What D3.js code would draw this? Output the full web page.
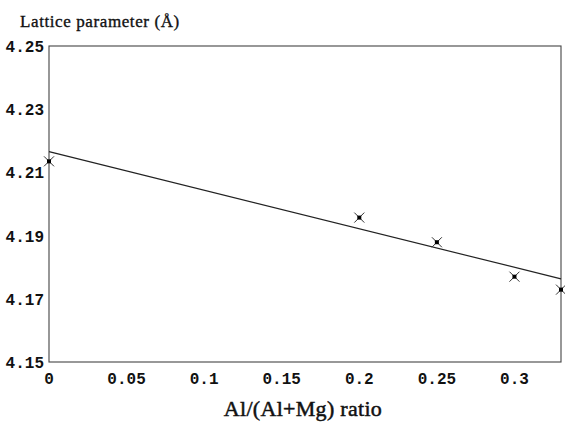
<!DOCTYPE html>
<html lang="en">
<head>
<meta charset="UTF-8" />
<title>Lattice parameter</title>
<script src="https://cdn.jsdelivr.net/npm/d3@7"></script>
<style>
    body { margin: 0; padding: 0; background: #fff; }
    .tick-label { font: bold 16px "Liberation Mono", monospace; fill: #111; }
    .title { font: 17px "Liberation Serif", serif; fill: #111; stroke: #111; stroke-width: 0.35; letter-spacing: 0.6px; }
    .xtitle { font: 22px "Liberation Serif", serif; fill: #111; stroke: #111; stroke-width: 0.5; letter-spacing: 0.3px; }
</style>
</head>
<body>
<svg width="565" height="422"></svg>
<script>
// measured points
var ratio = [0, 0.2, 0.25, 0.3, 0.33];
var lattice = [4.2135, 4.1957, 4.1879, 4.1770, 4.1729];
// fitted line ends
var fitRatio = [0, 0.33];
var fitLattice = [4.2166, 4.1763];

var xTicks = [0, 0.05, 0.1, 0.15, 0.2, 0.25, 0.3];
var xTickText = ['0', '0.05', '0.1', '0.15', '0.2', '0.25', '0.3'];
var yTicks = [4.15, 4.17, 4.19, 4.21, 4.23, 4.25];
var yTickText = ['4.15', '4.17', '4.19', '4.21', '4.23', '4.25'];

var svg = d3.select('svg'),
    plotLeft = 49, plotRight = 561, plotTop = 46, plotBottom = 362;

var x = d3.scaleLinear().domain([0, 0.33]).range([plotLeft, plotRight]);
var y = d3.scaleLinear().domain([4.15, 4.25]).range([plotBottom, plotTop]);

// frame
svg.append('rect')
    .attr('x', plotLeft).attr('y', plotTop)
    .attr('width', plotRight - plotLeft).attr('height', plotBottom - plotTop)
    .attr('fill', 'none')
    .attr('stroke', '#444')
    .attr('stroke-width', 1.1);

// tick labels
svg.selectAll('.ytl')
    .data(yTicks)
    .enter().append('text')
    .attr('class', 'tick-label')
    .attr('x', plotLeft - 5)
    .attr('y', d => y(d) + 6)
    .attr('text-anchor', 'end')
    .text((d, i) => yTickText[i]);

svg.selectAll('.xtl')
    .data(xTicks)
    .enter().append('text')
    .attr('class', 'tick-label')
    .attr('x', d => x(d))
    .attr('y', 384)
    .attr('text-anchor', 'middle')
    .text((d, i) => xTickText[i]);

// titles
svg.append('text')
    .attr('class', 'title')
    .attr('x', 20).attr('y', 27)
    .text('Lattice parameter (Å)');

svg.append('text')
    .attr('class', 'xtitle')
    .attr('x', 303).attr('y', 416)
    .attr('text-anchor', 'middle')
    .text('Al/(Al+Mg) ratio');

// fit line
var line = d3.line()
    .x(d => x(d[0]))
    .y(d => y(d[1]));

svg.append('path')
    .datum(d3.zip(fitRatio, fitLattice))
    .attr('d', line)
    .attr('fill', 'none')
    .attr('stroke', '#222')
    .attr('stroke-width', 1.2);

// markers: cross with filled centre
var pts = svg.selectAll('.pt')
    .data(d3.zip(ratio, lattice))
    .enter().append('g')
    .attr('transform', d => 'translate(' + x(d[0]) + ',' + y(d[1]) + ')');

pts.append('path')
    .attr('d', 'M-5,-5L5,5M-5,5L5,-5')
    .attr('stroke', '#333')
    .attr('stroke-width', 1);

pts.append('rect')
    .attr('x', -2).attr('y', -2)
    .attr('width', 4).attr('height', 4)
    .attr('fill', '#000');
</script>
</body>
</html>
